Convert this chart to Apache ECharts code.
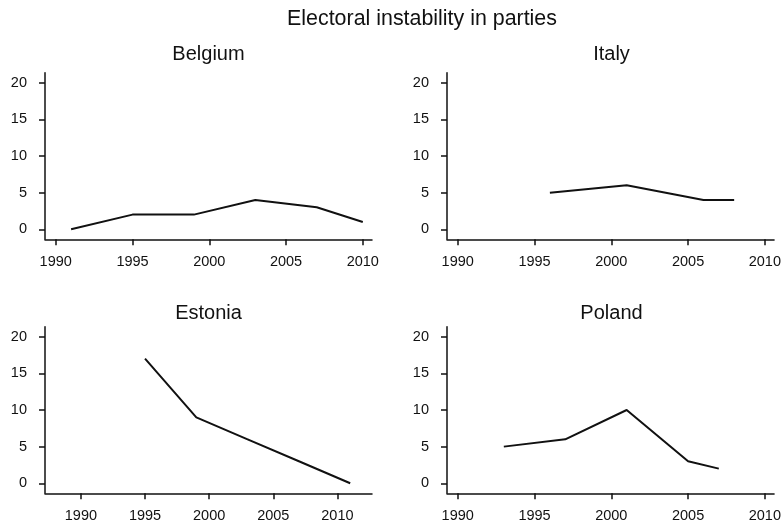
<!DOCTYPE html>
<html>
<head>
<meta charset="utf-8">
<script src="https://cdn.jsdelivr.net/npm/echarts@6/dist/echarts.min.js"></script>
<style>
html,body{margin:0;padding:0;background:#fff;}
#chart{width:784px;height:524px;}
</style>
</head>
<body>
<div id="chart"></div>
<script>
// ---- data ----
const mainTitle = "Electoral instability in parties";
const countries = ["Belgium", "Italy", "Estonia", "Poland"];
const belgiumYears = [1991, 1995, 1999, 2003, 2007, 2010];
const belgiumValues = [0, 2, 2, 4, 3, 1];
const italyYears = [1996, 2001, 2006, 2008];
const italyValues = [5, 6, 4, 4];
const estoniaYears = [1995, 1999, 2003, 2007, 2011];
const estoniaValues = [17, 9, 6, 3, 0];
const polandYears = [1993, 1997, 2001, 2005, 2007];
const polandValues = [5, 6, 10, 3, 2];
const xTickLabels = [1990, 1995, 2000, 2005, 2010];
const yTickLabels = [0, 5, 10, 15, 20];

// ---- layout ----
const FONT = "'Liberation Sans', Arial, Helvetica, sans-serif";
const INK = "#111";
const panels = [
  {name: countries[0], years: belgiumYears, vals: belgiumValues, left: 45,  top: 72.7,  width: 327, height: 166.6, xmin: 1989.3, xmax: 2010.6},
  {name: countries[1], years: italyYears,   vals: italyValues,   left: 447, top: 72.7,  width: 329, height: 166.6, xmin: 1989.3, xmax: 2010.6},
  {name: countries[2], years: estoniaYears, vals: estoniaValues, left: 45,  top: 326.7, width: 327, height: 166.6, xmin: 1987.2, xmax: 2012.7},
  {name: countries[3], years: polandYears,  vals: polandValues,  left: 447, top: 326.7, width: 329, height: 166.6, xmin: 1989.3, xmax: 2010.6}
];

const titles = [{
  text: mainTitle, left: 422, top: 9, textAlign: 'center', padding: 0,
  textStyle: {fontFamily: FONT, fontSize: 21.4, fontWeight: 'normal', color: INK}
}];
const grids = [], xAxes = [], yAxes = [], series = [];

panels.forEach((p, i) => {
  titles.push({
    text: p.name, left: p.left + p.width / 2, top: (i < 2 ? 44 : 303), textAlign: 'center', padding: 0,
    textStyle: {fontFamily: FONT, fontSize: 20, fontWeight: 'normal', color: INK}
  });
  grids.push({left: p.left, top: p.top, width: p.width, height: p.height, containLabel: false});
  xAxes.push({
    type: 'value', gridIndex: i, min: p.xmin, max: p.xmax,
    axisLine: {show: true, onZero: false, lineStyle: {color: INK, width: 1.5}},
    axisTick: {show: true, length: 6, inside: false, customValues: xTickLabels, lineStyle: {color: INK, width: 1.5}},
    axisLabel: {show: true, margin: 15, customValues: xTickLabels, formatter: v => String(v),
      fontFamily: FONT, fontSize: 14.5, color: INK},
    splitLine: {show: false}
  });
  yAxes.push({
    type: 'value', gridIndex: i, min: -1.37, max: 21.37,
    axisLine: {show: true, onZero: false, lineStyle: {color: INK, width: 1.5}},
    axisTick: {show: true, length: 6, inside: false, customValues: yTickLabels, lineStyle: {color: INK, width: 1.5}},
    axisLabel: {show: true, margin: 18, customValues: yTickLabels, formatter: v => String(v),
      fontFamily: FONT, fontSize: 14.5, color: INK},
    splitLine: {show: false}
  });
  series.push({
    type: 'line', xAxisIndex: i, yAxisIndex: i,
    data: p.years.map((y, k) => [y, p.vals[k]]),
    showSymbol: false, symbol: 'none', silent: true,
    lineStyle: {color: INK, width: 2},
    animation: false
  });
});

const chart = echarts.init(document.getElementById('chart'), null, {renderer: 'canvas'});
chart.setOption({
  animation: false,
  backgroundColor: '#fff',
  title: titles,
  grid: grids,
  xAxis: xAxes,
  yAxis: yAxes,
  series: series
});
</script>
</body>
</html>
